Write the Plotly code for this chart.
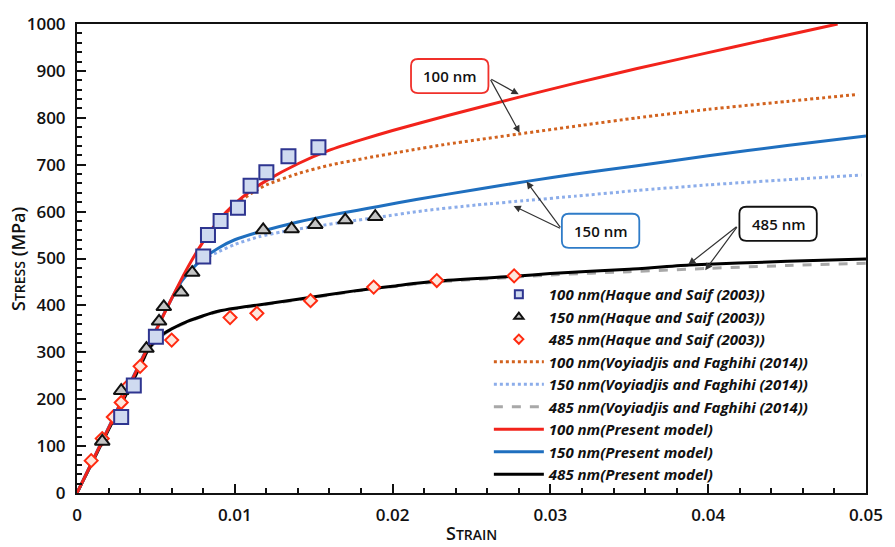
import plotly.graph_objects as go

# ---------------- data ----------------
# Experimental data (Haque and Saif 2003)
sq_x = [0.0028, 0.0036, 0.0050, 0.0080, 0.0083, 0.0091, 0.0102, 0.0110, 0.0120, 0.0134, 0.0153]
sq_y = [162, 229, 333, 504, 550, 580, 608, 655, 684, 718, 737]

tri_x = [0.0016, 0.0028, 0.0044, 0.0052, 0.0055, 0.0066, 0.0073, 0.0118, 0.0136, 0.0151, 0.0170, 0.0189]
tri_y = [110, 218, 308, 366, 397, 428, 470, 561, 563, 572, 582, 589]

dia_x = [0.0009, 0.0016, 0.0023, 0.0028, 0.0032, 0.0040, 0.0060, 0.0097, 0.0114, 0.0148, 0.0188, 0.0228, 0.0277]
dia_y = [69, 116, 162, 193, 227, 270, 326, 374, 383, 410, 439, 453, 463]

# Voyiadjis and Faghihi (2014)
vf100_x = [0.0085, 0.0090, 0.0100, 0.0110, 0.0120, 0.0141, 0.0160, 0.0183, 0.0210, 0.0235, 0.0279, 0.0320, 0.0355, 0.0400, 0.0450, 0.0495]
vf100_y = [560, 582, 614, 638, 657, 682, 699, 714, 730, 744, 765, 784, 800, 818, 835, 850]

vf150_x = [0.0080, 0.0090, 0.0100, 0.0115, 0.0130, 0.0150, 0.0172, 0.0191, 0.0220, 0.0253, 0.0286, 0.0316, 0.0355, 0.0400, 0.0450, 0.0497]
vf150_y = [498, 515, 530, 546, 557, 568, 579, 588, 602, 614, 624, 633, 645, 657, 668, 678]

vf485_x = [0.0000, 0.0040, 0.0045, 0.0050, 0.0055, 0.0060, 0.0070, 0.0080, 0.0090, 0.0100, 0.0115, 0.0140, 0.0178, 0.0200, 0.0228, 0.0277, 0.0300, 0.0350, 0.0400, 0.0450, 0.0500]
vf485_y = [0, 270, 303, 323, 338, 349, 365, 377, 387, 393, 400, 412, 431, 440, 450, 460, 465, 472, 479, 485, 490]

# Present model
pm100_x = [0.0000, 0.0060, 0.0070, 0.0080, 0.0090, 0.0100, 0.0110, 0.0120, 0.0140, 0.0160, 0.0180, 0.0200, 0.0235, 0.0279, 0.0316, 0.0355, 0.0400, 0.0432, 0.0482]
pm100_y = [0, 415, 480, 536, 582, 617, 644, 666, 702, 731, 753, 773, 805, 843, 874, 905, 939, 963, 1000]

pm150_x = [0.0000, 0.0057, 0.0065, 0.0073, 0.0080, 0.0090, 0.0100, 0.0117, 0.0140, 0.0160, 0.0178, 0.0191, 0.0215, 0.0253, 0.0286, 0.0316, 0.0355, 0.0400, 0.0450, 0.0500]
pm150_y = [0, 395, 445, 478, 500, 523, 540, 558, 578, 592, 603, 611, 626, 647, 665, 680, 698, 719, 741, 761]

pm485_x = [0.0000, 0.0040, 0.0045, 0.0050, 0.0055, 0.0060, 0.0070, 0.0080, 0.0090, 0.0100, 0.0115, 0.0140, 0.0178, 0.0200, 0.0228, 0.0277, 0.0300, 0.0350, 0.0388, 0.0450, 0.0500]
pm485_y = [0, 270, 305, 325, 340, 350, 366, 378, 388, 394, 401, 413, 432, 441, 452, 462, 468, 477, 486, 494, 499]

x_ticks = [0, 0.01, 0.02, 0.03, 0.04, 0.05]
x_tick_labels = ["0", "0.01", "0.02", "0.03", "0.04", "0.05"]
y_ticks = [0, 100, 200, 300, 400, 500, 600, 700, 800, 900, 1000]
y_tick_labels = [str(v) for v in y_ticks]

# callout labels: (text, border colour, centre x, centre y, arrow tail, arrow heads)
callouts = [
    ("100 nm", "#f0302a", 0.02362, 889, (0.02616, 884), [(0.02799, 850), (0.02805, 768)]),
    ("150 nm", "#2f7cc8", 0.03318, 559, (0.03070, 563), [(0.02849, 664), (0.02767, 612)]),
    ("485 nm", "#111111", 0.04443, 574, (0.04189, 570), [(0.03874, 487), (0.03981, 475)]),
]

# ---------------- figure ----------------
FONT = "Open Sans"
TXT = "#111111"

fig = go.Figure()

SQ = dict(symbol="square", color="#cfdaf0", line=dict(color="#2e3590", width=2))
TR = dict(symbol="triangle-up", color="#c4c4c4", line=dict(color="#111111", width=2))
DI = dict(symbol="diamond", color="#fde6dc", line=dict(color="#ff2a10", width=2))

def line(x, y, name, color, dash, width, rank):
    fig.add_trace(go.Scatter(x=x, y=y, mode="lines", name=name, legendrank=rank,
                             line=dict(color=color, dash=dash, width=width, shape="spline", smoothing=0.6)))

line(vf485_x, vf485_y, "485 nm(Voyiadjis and Faghihi (2014))", "#a8a8a8", "dash", 3, 6)
line(pm485_x, pm485_y, "485 nm(Present model)", "#000000", "solid", 3, 9)
line(vf150_x, vf150_y, "150 nm(Voyiadjis and Faghihi (2014))", "#8cadea", "dot", 3, 5)
line(pm150_x, pm150_y, "150 nm(Present model)", "#1f6fbf", "solid", 3, 8)
line(vf100_x, vf100_y, "100 nm(Voyiadjis and Faghihi (2014))", "#d2621e", "dot", 3, 4)
line(pm100_x, pm100_y, "100 nm(Present model)", "#f2231b", "solid", 3, 7)

# data markers on the plot (large)
fig.add_trace(go.Scatter(x=dia_x, y=dia_y, mode="markers", showlegend=False,
                         marker=dict(size=10, **DI)))
fig.add_trace(go.Scatter(x=tri_x, y=tri_y, mode="markers", showlegend=False,
                         marker=dict(size=13, **TR)))
fig.add_trace(go.Scatter(x=sq_x, y=sq_y, mode="markers", showlegend=False,
                         marker=dict(size=14, **SQ)))
# legend entries for data (smaller symbols, as in the reference legend)
for nm, mk, sz, rk in [("100 nm(Haque and Saif (2003))", SQ, 8, 1),
                       ("150 nm(Haque and Saif (2003))", TR, 8, 2),
                       ("485 nm(Haque and Saif (2003))", DI, 7, 3)]:
    fig.add_trace(go.Scatter(x=[None], y=[None], mode="markers", name=nm, legendrank=rk,
                             marker=dict(size=sz, **mk)))

# plot geometry (pixels per unit) for rounded callout boxes
W, H = 895, 547
ML, MR, MT, MB = 77, 23, 12, 54
px_x = (W - ML - MR) / 0.05
px_y = (H - MT - MB) / 1000.0

def rounded_box(cx, cy, wpx, hpx, rpx):
    hw, hh = wpx / 2 / px_x, hpx / 2 / px_y
    rx, ry = rpx / px_x, rpx / px_y
    x0, x1, y0, y1 = cx - hw, cx + hw, cy - hh, cy + hh
    return (f"M {x0+rx},{y0} L {x1-rx},{y0} Q {x1},{y0} {x1},{y0+ry} "
            f"L {x1},{y1-ry} Q {x1},{y1} {x1-rx},{y1} L {x0+rx},{y1} "
            f"Q {x0},{y1} {x0},{y1-ry} L {x0},{y0+ry} Q {x0},{y0} {x0+rx},{y0} Z")

shapes = []
annotations = []
for text, col, cx, cy, tail, heads in callouts:
    shapes.append(dict(type="path", xref="x", yref="y", path=rounded_box(cx, cy, 78, 35, 7),
                       line=dict(color=col, width=1.8), fillcolor="white", layer="above"))
    annotations.append(dict(x=cx, y=cy, xref="x", yref="y", text=text, showarrow=False,
                            font=dict(family=FONT, size=15, color=TXT, weight=600)))
    for hx, hy in heads:
        annotations.append(dict(x=hx, y=hy, ax=tail[0], ay=tail[1], xref="x", yref="y",
                                axref="x", ayref="y", text="", showarrow=True,
                                arrowhead=2, arrowsize=1.2, arrowwidth=1.2, arrowcolor="#333333",
                                standoff=0, startstandoff=0))

# axis titles (small caps emulation)
annotations.append(dict(xref="paper", yref="paper", x=(17 - ML) / (W - ML - MR), y=0.5,
                        textangle=-90, showarrow=False, xanchor="center", yanchor="middle",
                        text="S<span style='font-size:14px'>TRESS</span> (MPa)",
                        font=dict(family=FONT, size=18, color=TXT, weight=600)))
annotations.append(dict(xref="paper", yref="paper", x=0.5, y=-(534 - (H - MB)) / (H - MT - MB),
                        showarrow=False, xanchor="center", yanchor="middle",
                        text="S<span style='font-size:14px'>TRAIN</span>",
                        font=dict(family=FONT, size=18, color=TXT, weight=600)))

axis_common = dict(showgrid=False, zeroline=False, showline=True, linecolor="#111111", linewidth=2,
                   mirror=True, ticks="inside", tickcolor="#111111", tickwidth=1.5,
                   tickfont=dict(family=FONT, size=17, color=TXT, weight=600))

fig.update_layout(
    width=W, height=H,
    margin=dict(l=ML, r=MR, t=MT, b=MB),
    paper_bgcolor="white", plot_bgcolor="white",
    shapes=shapes, annotations=annotations,
    xaxis=dict(range=[0, 0.05], tickvals=x_ticks, ticktext=x_tick_labels, ticklen=9,
               ticklabelstandoff=6,
               minor=dict(dtick=0.002, ticks="inside", ticklen=5, tickcolor="#111111", tickwidth=1.5),
               **axis_common),
    yaxis=dict(range=[0, 1000], tickvals=y_ticks, ticktext=y_tick_labels, ticklen=9,
               ticklabelstandoff=6,
               minor=dict(dtick=20, ticks="inside", ticklen=5, tickcolor="#111111", tickwidth=1.5),
               **axis_common),
    legend=dict(x=0.522, y=0.4586, xanchor="left", yanchor="top", bgcolor="rgba(0,0,0,0)",
                font=dict(family=FONT, size=15, color=TXT, style="italic", weight=700),
                traceorder="normal", itemsizing="trace", itemwidth=50),
    showlegend=True,
)

fig.write_html("out.html")
